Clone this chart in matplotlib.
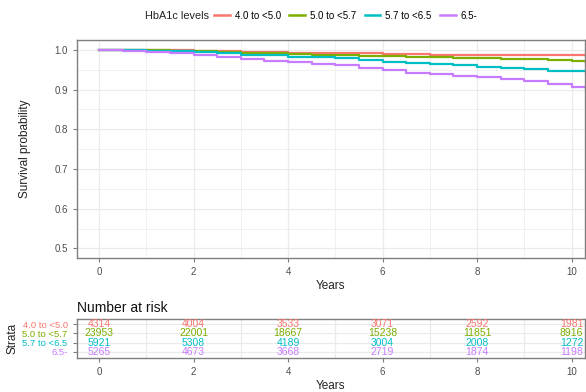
import matplotlib
matplotlib.use("Agg")
import matplotlib.pyplot as plt
from matplotlib.lines import Line2D

plt.rcParams["font.family"] = ["Liberation Sans", "DejaVu Sans"]

groups = ["4.0 to <5.0", "5.0 to <5.7", "5.7 to <6.5", "6.5-"]
colors = ["#F8766D", "#7CAE00", "#00BFC4", "#C77CFF"]

years = [0, 0.5, 1, 1.5, 2, 2.5, 3, 3.5, 4, 4.5, 5, 5.5, 6, 6.5, 7, 7.5, 8, 8.5, 9, 9.5, 10, 10.3]
surv_red = [1.0, 1.0, 0.999, 0.999, 0.998, 0.996, 0.995, 0.994, 0.993, 0.992, 0.992, 0.991, 0.989,
            0.989, 0.988, 0.988, 0.987, 0.987, 0.986, 0.986, 0.986, 0.986]
surv_green = [1.0, 1.0, 0.999, 0.998, 0.996, 0.994, 0.992, 0.991, 0.989, 0.988, 0.987, 0.985, 0.984,
              0.983, 0.981, 0.980, 0.979, 0.978, 0.976, 0.974, 0.971, 0.968]
surv_cyan = [1.0, 0.999, 0.998, 0.996, 0.994, 0.991, 0.988, 0.986, 0.983, 0.981, 0.979, 0.974, 0.970,
             0.967, 0.964, 0.961, 0.958, 0.955, 0.951, 0.948, 0.946, 0.944]
surv_purple = [1.0, 0.998, 0.995, 0.992, 0.988, 0.983, 0.978, 0.973, 0.969, 0.965, 0.961, 0.955, 0.949,
               0.943, 0.939, 0.935, 0.931, 0.926, 0.921, 0.914, 0.906, 0.901]
curves = [surv_red, surv_green, surv_cyan, surv_purple]

risk_times = [0, 2, 4, 6, 8, 10]
risk_red = [4314, 4004, 3533, 3071, 2592, 1981]
risk_green = [23953, 22001, 18667, 15238, 11851, 8916]
risk_cyan = [5921, 5308, 4189, 3004, 2008, 1272]
risk_purple = [5265, 4673, 3668, 2719, 1874, 1198]
risks = [risk_red, risk_green, risk_cyan, risk_purple]

fig = plt.figure(figsize=(5.86, 3.92), dpi=100)
ax = fig.add_axes([0.131, 0.342, 0.867, 0.556])
ax2 = fig.add_axes([0.131, 0.087, 0.867, 0.099])

grid_c = "#EBEBEB"
border_c = "#7F7F7F"
tick_c = "#4D4D4D"


def style(a):
    for s in a.spines.values():
        s.set_color(border_c)
        s.set_linewidth(1.0)
    a.tick_params(colors=border_c, labelcolor=tick_c, labelsize=7, length=3, width=0.8)
    a.set_axisbelow(True)


for vals, c in zip(curves, colors):
    ax.step(years, vals, where="post", color=c, lw=1.6)

ax.set_xlim(-0.47, 10.28)
ax.set_ylim(0.476, 1.025)
ax.set_xticks([0, 2, 4, 6, 8, 10])
ax.set_xticks([1, 3, 5, 7, 9], minor=True)
ax.set_yticks([0.5, 0.6, 0.7, 0.8, 0.9, 1.0])
ax.set_yticks([0.55, 0.65, 0.75, 0.85, 0.95], minor=True)
ax.grid(True, which="major", color=grid_c, lw=0.9)
ax.grid(True, which="minor", color=grid_c, lw=0.5)
ax.tick_params(which="minor", length=0)
style(ax)
ax.set_yticklabels(["0.5", "0.6", "0.7", "0.8", "0.9", "1.0"])
ax.set_xlabel("Years", fontsize=8.5, color="#222222", labelpad=2)
ax.set_ylabel("Survival probability", fontsize=8.5, color="#222222", labelpad=17)

# risk table
rows = [3, 2, 1, 0]
for r, vals, c in zip(rows, risks, colors):
    for t, v in zip(risk_times, vals):
        ax2.text(t, r, str(v), color=c, ha="center", va="center", fontsize=7.5)
ax2.set_xlim(-0.47, 10.28)
ax2.set_ylim(-0.65, 3.54)
ax2.set_xticks([0, 2, 4, 6, 8, 10])
ax2.set_xticks([1, 3, 5, 7, 9], minor=True)
ax2.set_yticks(rows)
ax2.set_yticklabels(groups)
ax2.grid(True, which="major", axis="y", color=grid_c, lw=0.9)
ax2.grid(True, which="minor", axis="x", color=grid_c, lw=0.9)
ax2.tick_params(which="minor", length=0)
style(ax2)
for lab, c in zip(ax2.get_yticklabels(), colors):
    lab.set_color(c)
    lab.set_fontsize(6.8)
ax2.set_xlabel("Years", fontsize=8.5, color="#222222", labelpad=2)
ax2.set_ylabel("Strata", fontsize=8.5, color="#222222", labelpad=3)
ax2.set_title("Number at risk", loc="left", fontsize=10, color="#111111", pad=5)

# legend
fig.text(0.247, 0.96, "HbA1c levels", fontsize=7.8, color="#222222", ha="left", va="center")
handles = [Line2D([], [], color=c, lw=1.8) for c in colors]
fig.legend(handles, groups, loc="center", bbox_to_anchor=(0.59, 0.96), ncol=4, frameon=False,
           fontsize=7, handlelength=1.6, handletextpad=0.5, columnspacing=0.9)

fig.savefig("out.png", dpi=100)
